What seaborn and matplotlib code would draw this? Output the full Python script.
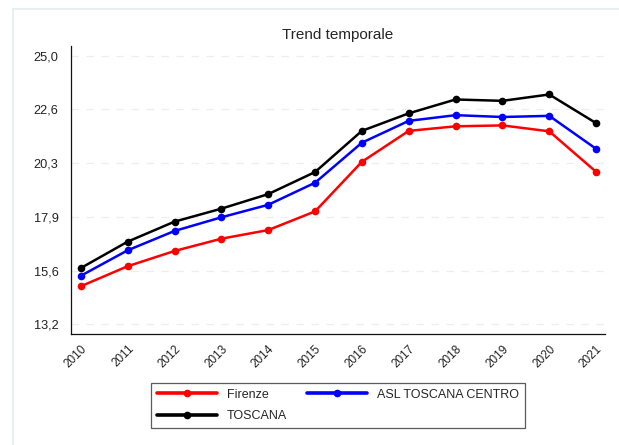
import numpy as np
import pandas as pd
import matplotlib
matplotlib.use("Agg")
import matplotlib.pyplot as plt
import seaborn as sns
from matplotlib.ticker import FuncFormatter
from matplotlib.lines import Line2D

anni = list(range(2010, 2022))
firenze = [14.87, 15.75, 16.42, 16.96, 17.34, 18.16, 20.34, 21.70, 21.90, 21.94, 21.68, 19.90]
asl_centro = [15.33, 16.45, 17.30, 17.90, 18.45, 19.42, 21.18, 22.14, 22.39, 22.31, 22.36, 20.91]
toscana = [15.67, 16.83, 17.71, 18.28, 18.92, 19.89, 21.70, 22.47, 23.08, 23.02, 23.30, 22.04]

serie = ["Firenze", "ASL TOSCANA CENTRO", "TOSCANA"]
colori = {"Firenze": "#ff0000", "ASL TOSCANA CENTRO": "#0000ff", "TOSCANA": "#000000"}

df = pd.DataFrame({
    "anno": anni * 3,
    "valore": firenze + asl_centro + toscana,
    "area": ["Firenze"] * 12 + ["ASL TOSCANA CENTRO"] * 12 + ["TOSCANA"] * 12,
})

sns.set_style("white")
plt.rcParams["font.family"] = ["Liberation Sans", "DejaVu Sans"]

fig = plt.figure(figsize=(6.19, 4.45), dpi=100)
ax = fig.add_axes([0.1147, 0.2494, 0.8627, 0.6472])

sns.lineplot(data=df, x="anno", y="valore", hue="area", hue_order=serie,
             palette=colori, marker="o", markersize=5.5, markeredgewidth=0,
             linewidth=1.8, ax=ax, legend=False)

# asse y con virgola decimale
yticks = np.linspace(13.2, 25.0, 6)
ax.set_yticks(yticks)
ax.yaxis.set_major_formatter(FuncFormatter(lambda v, p: f"{v:.1f}".replace(".", ",")))
ax.set_ylim(12.77, 25.43)
ax.set_xticks(anni)
ax.set_xlim(2009.79, 2021.19)
ax.set_xticklabels([str(a) for a in anni], rotation=45, ha="right", rotation_mode="anchor")
ax.tick_params(axis="both", colors="#222222", direction="out")
ax.tick_params(axis="y", length=7, width=0.9, pad=2, labelsize=9.2)
ax.tick_params(axis="x", length=5, width=0.9, pad=1.5, labelsize=8.5)
ax.set_xlabel("")
ax.set_ylabel("")
ax.set_title("Trend temporale", fontsize=11, pad=5)

ax.grid(axis="y", color="#eeeeee", linestyle=(0, (6, 6)), linewidth=0.9)
ax.grid(axis="x", visible=False)
for s in ["top", "right"]:
    ax.spines[s].set_visible(False)
for s in ["left", "bottom"]:
    ax.spines[s].set_color("#111111")
    ax.spines[s].set_linewidth(0.9)

# legenda su due colonne, riempita per righe
ordine = ["Firenze", "TOSCANA", "ASL TOSCANA CENTRO"]
handles = [Line2D([0], [0], color=colori[s], linewidth=2.6, marker="o", markersize=4.5) for s in ordine]
leg = fig.legend(handles, ordine, loc="center", bbox_to_anchor=(0.546, 0.089), ncol=2,
                 fontsize=9, frameon=True, fancybox=False, handlelength=4.8,
                 columnspacing=1.6, handletextpad=0.8, borderpad=0.45, labelspacing=0.75)
leg.get_frame().set_edgecolor("#333333")
leg.get_frame().set_linewidth(0.9)

# cornice esterna chiara
fig.add_artist(Line2D([13 / 619, 13 / 619], [0, 1 - 9 / 445], color="#e6ecf0", linewidth=1.2))
fig.add_artist(Line2D([13 / 619, 1], [1 - 9 / 445, 1 - 9 / 445], color="#e6ecf0", linewidth=1.2))

fig.savefig("out.png", dpi=100)
